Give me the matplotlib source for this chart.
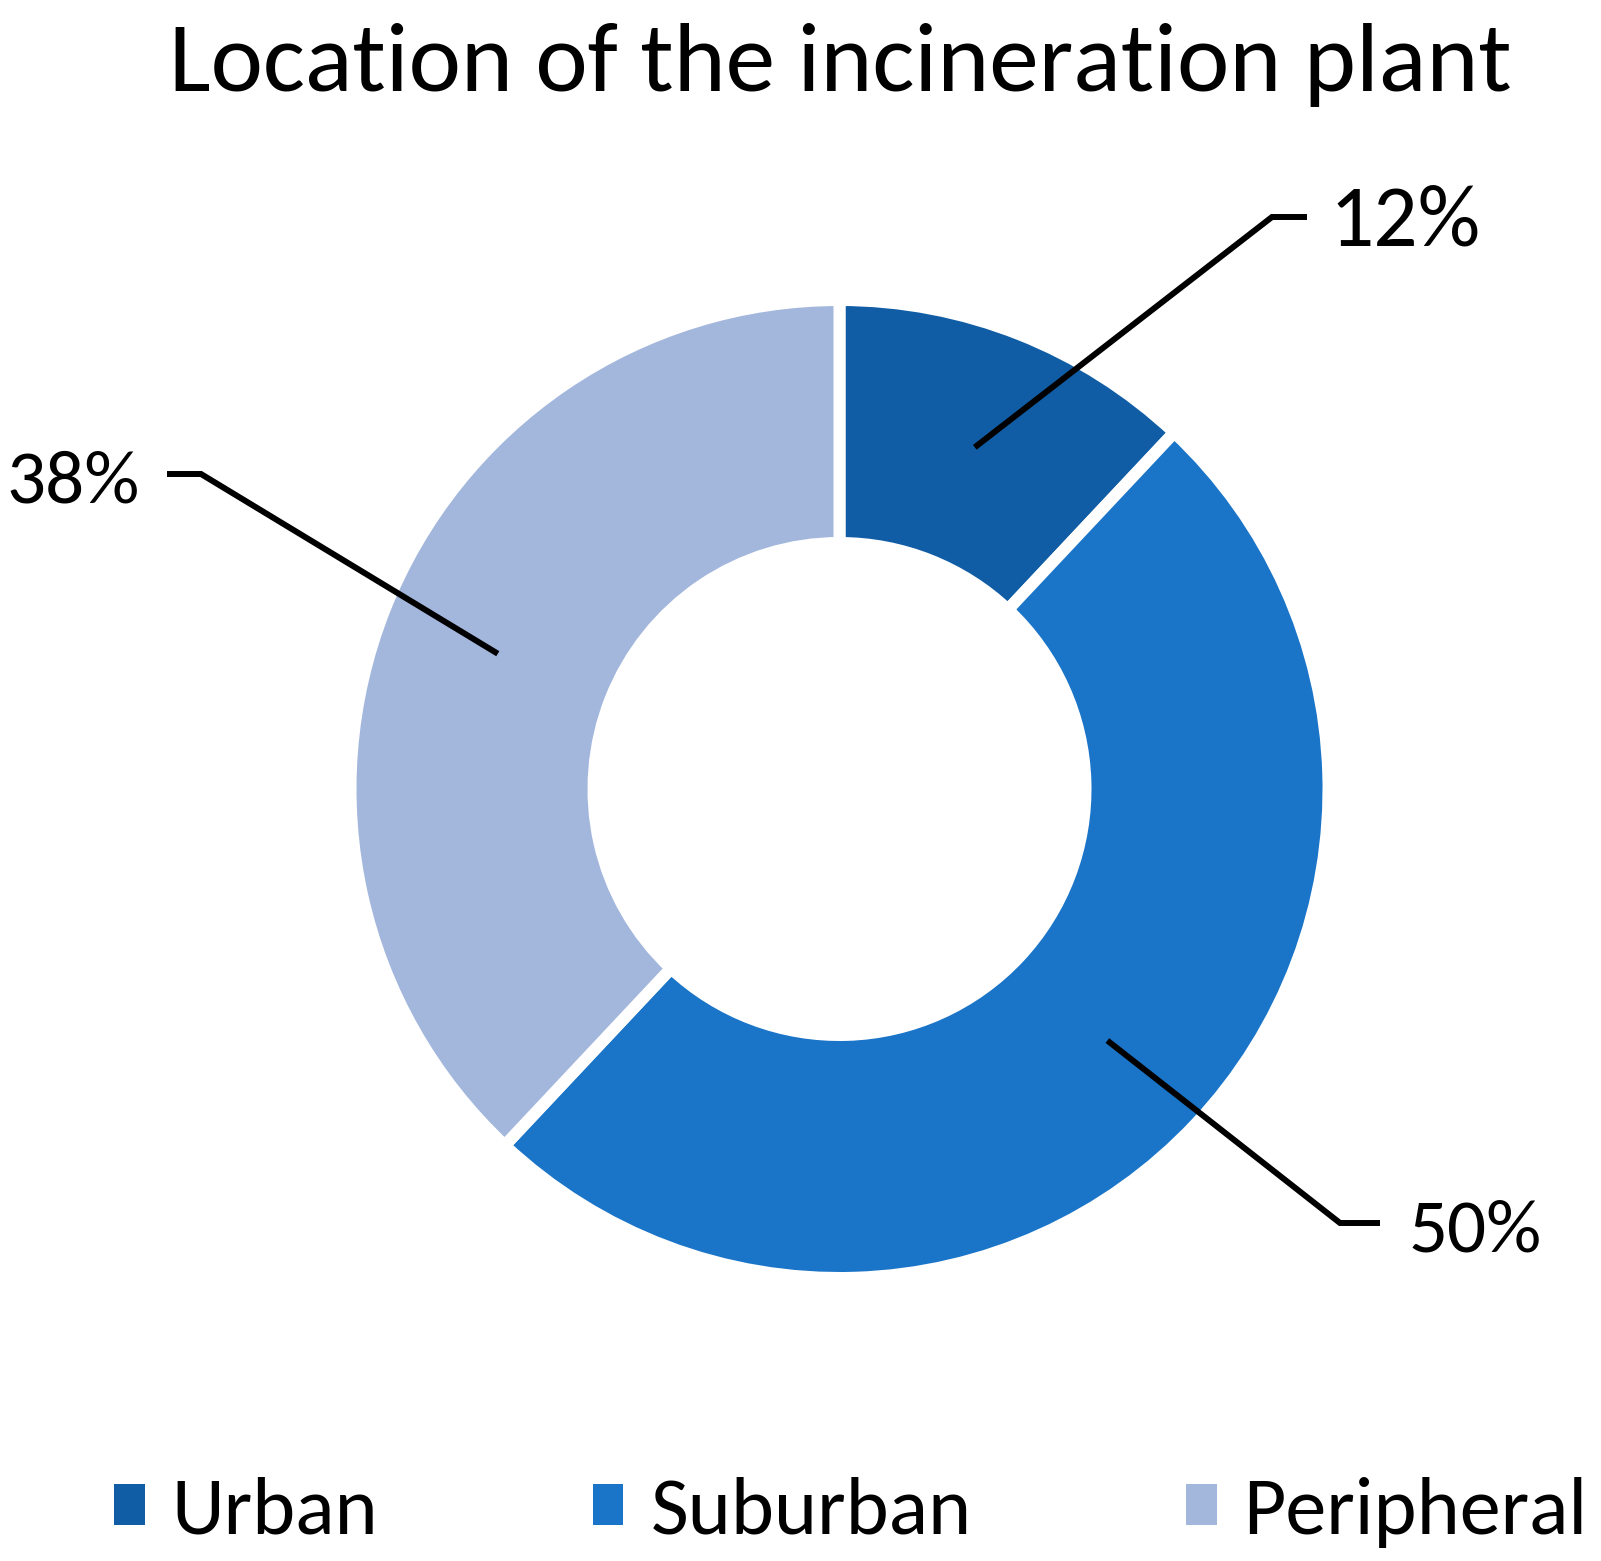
import numpy as np
import matplotlib
matplotlib.use("Agg")
import matplotlib.pyplot as plt
from matplotlib.patches import Patch

plt.rcParams['font.family'] = ['Carlito', 'DejaVu Sans']

# dados
categorias = ['Urban', 'Suburban', 'Peripheral']
valores = [12, 50, 38]
cores = ['#105DA5', '#1A74C8', '#A3B7DD']
titulo = 'Location of the incineration plant'

# geometria (pixels da figura, y para cima)
W, H = 1601, 1561
cx, cy = 839.5, H - 789
gap = 12                      # largura do espaco branco entre fatias (px)
r_ext = 483 + gap / 2
r_int = 252 - gap / 2
lw_borda = gap * 72 / 100

fig = plt.figure(figsize=(W / 100, H / 100), dpi=100)
ax = fig.add_axes([0, 0, 1, 1])

ax.pie(valores, colors=cores, startangle=90, counterclock=False,
       radius=r_ext, center=(cx, cy),
       wedgeprops=dict(width=r_ext - r_int, edgecolor='white', linewidth=lw_borda))

ax.set_xlim(0, W)
ax.set_ylim(0, H)
ax.set_aspect('equal')
ax.axis('off')

# rotulos com linhas de chamada
# (cotovelo x, cotovelo y, fim x, texto x, texto baseline, alinhamento, tamanho)
chamadas = [
    (1272, H - 217, 1307, 1329, H - 245, 'left', 63),
    (1340, H - 1223, 1380, 1409, H - 1252, 'left', 55.5),
    (201, H - 474, 167, 140, H - 502, 'right', 55.5),
]
r_meio = (483 + 252) / 2
ang = 90.0
for v, (ex, ey, fx, tx, ty, ha, fs) in zip(valores, chamadas):
    meio = ang - v * 360 / 100 / 2
    ang -= v * 360 / 100
    t = np.deg2rad(meio)
    x0 = cx + r_meio * np.cos(t)
    y0 = cy + r_meio * np.sin(t)
    ax.plot([x0, ex, fx], [y0, ey, ey], color='black', lw=4.3,
            solid_joinstyle='miter', solid_capstyle='butt')
    ax.text(tx, ty, '{:d}%'.format(v), ha=ha, va='baseline', fontsize=fs)

ax.text(840, H - 91, titulo, ha='center', va='baseline', fontsize=71.5)

handles = [Patch(facecolor=c, edgecolor='none') for c in cores]
fig.legend(handles, categorias, loc='center', ncol=3,
           bbox_to_anchor=(851 / W, 1 - 1512 / H), frameon=False,
           fontsize=59, handlelength=0.37, handleheight=0.39,
           handletextpad=0.33, columnspacing=2.62)

fig.savefig('out.png', dpi=100, facecolor='white')
